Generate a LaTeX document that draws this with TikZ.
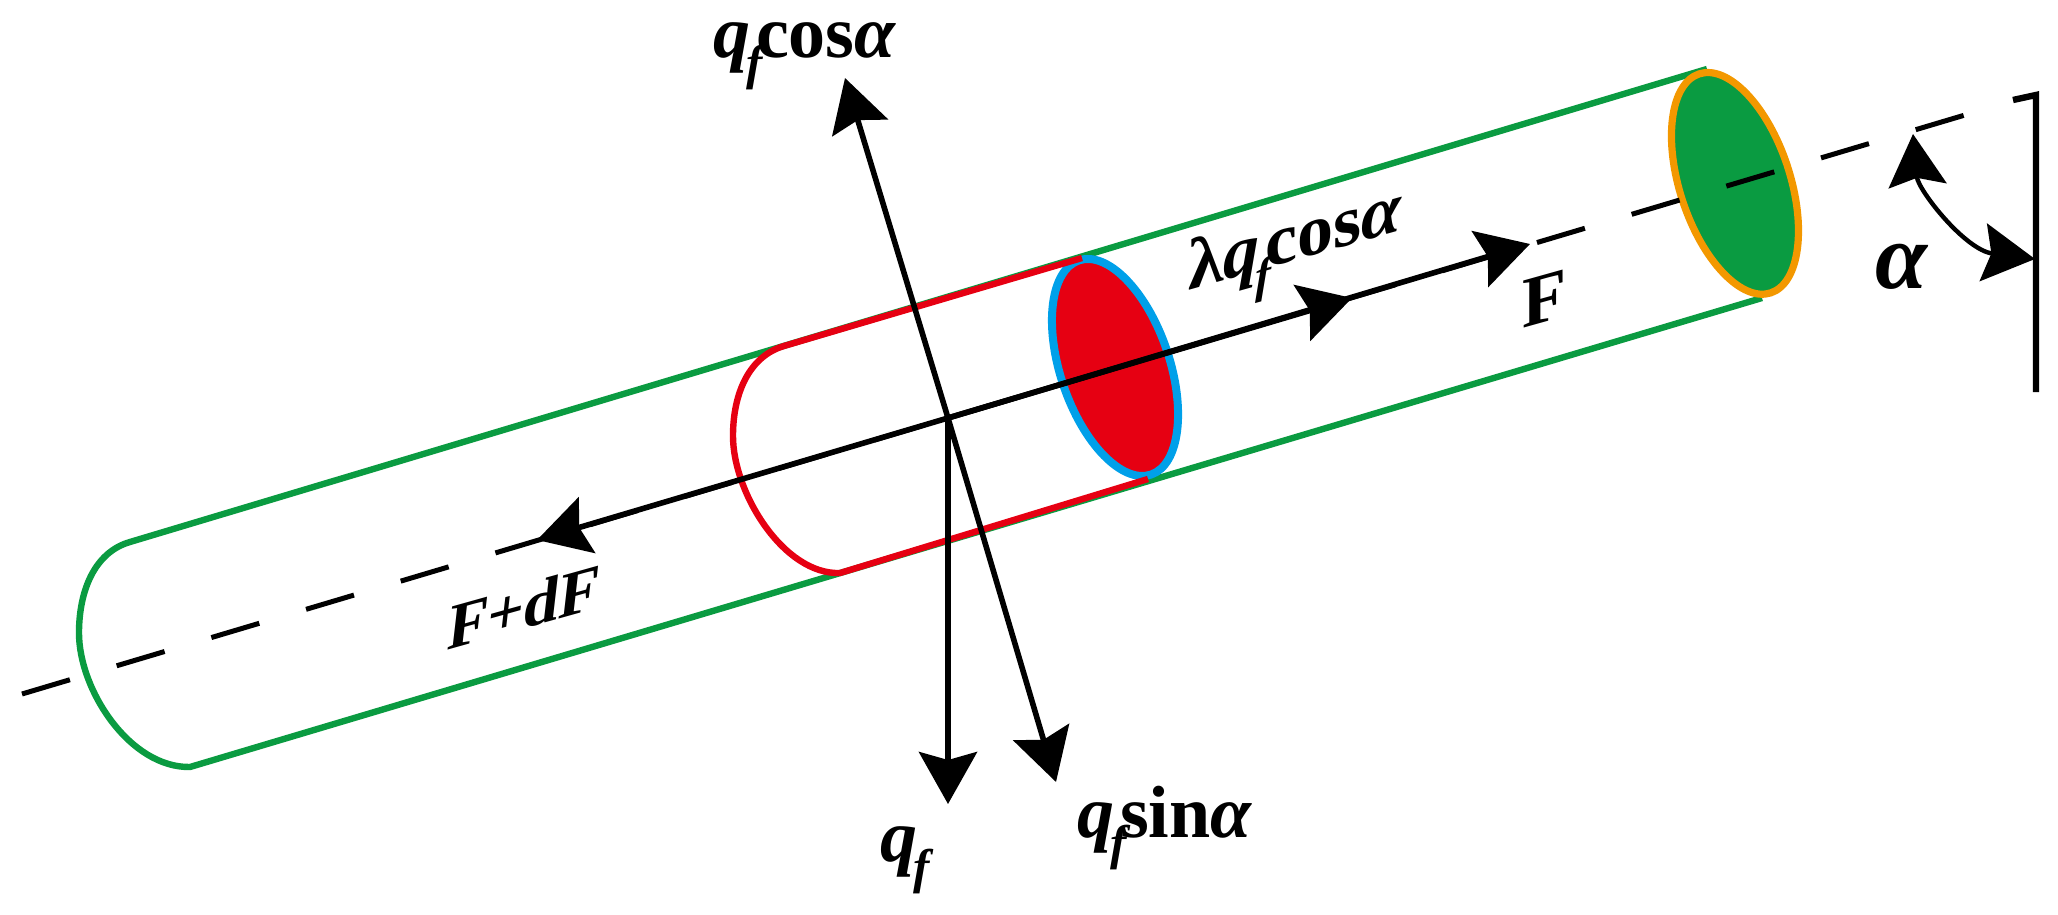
\documentclass[tikz,border=0pt]{standalone}
\usepackage{fontspec}
\usepackage{tikz}
\usetikzlibrary{arrows.meta}
\setmainfont{Liberation Serif}
\definecolor{tubegreen}{RGB}{10,155,65}
\definecolor{tubered}{RGB}{230,0,18}
\definecolor{rimblue}{RGB}{0,160,233}
\definecolor{rimorange}{RGB}{243,152,0}
\newcommand{\qf}{\textbf{\textit{q}}\kern-0.06em\raisebox{-0.3em}{\scalebox{0.66}{\textit{f}}}\kern-0.14em}
\newcommand{\bfalpha}{\textbf{\textit{α}}}
\tikzset{
    forcetip/.tip={Stealth[length=26pt,width=29pt,inset=4pt]},
    forcearrow/.style={line width=2.8pt,-forcetip},
    tubeline/.style={line width=3.2pt},
    forcelabel/.style={inner sep=0pt,font=\fontsize{37}{37}\selectfont\bfseries},
    tubelabel/.style={inner sep=0pt,yslant=0.28,transform shape,font=\fontsize{36}{36}\selectfont\bfseries}
}
\begin{document}
\begin{tikzpicture}[x=0.5pt,y=-0.5pt]
        \useasboundingbox (0,0) rectangle (2058,915);

        \coordinate (o) at (948,418);
        \coordinate (axisl) at (22,694);
        \coordinate (axisr) at (1965,115);
        \coordinate (cosend) at (845,78);
        \coordinate (sinend) at (1056,782);
        \coordinate (qend) at (948,804);
        \coordinate (dfend) at (537,540);
        \coordinate (fend) at (1530,244);
        \coordinate (midend) at (1352,298);
        \coordinate (greencen) at (1735,183.5);
        \coordinate (redcen) at (1115,367.5);

        \draw[tubeline,tubegreen] (1707,69) -- (130,542) .. controls (95,552) and (79,590) .. (79,633) .. controls (79,690) and (130,768) .. (190,767) -- (1762,298);

        \draw[line width=4pt,rimblue,fill=tubered,rotate around={-71.4:(redcen)}] (redcen) ellipse (56.5pt and 27.3pt);
        \draw[line width=3.6pt,rimorange,fill=tubegreen,rotate around={-71.9:(greencen)}] (greencen) ellipse (57.6pt and 27.6pt);

        \draw[tubeline,tubered] (1082,258) -- (784,346) .. controls (750,356) and (733,392) .. (733,436) .. controls (733,493) and (784,575) .. (840,573) -- (1148,479);

        \draw[line width=2.5pt,dash pattern=on 25pt off 24.4pt] (axisl) -- (axisr);
        \draw[forcearrow] (o) -- (cosend);
        \draw[forcearrow] (o) -- (sinend);
        \draw[forcearrow] (o) -- (qend);
        \draw[forcearrow] (o) -- (dfend);
        \draw[forcearrow] (o) -- (fend);
        \draw[forcearrow] (o) -- (midend);

        \coordinate (hook) at (2013,100);
        \coordinate (walltop) at (2036,95);
        \coordinate (wallend) at (2036,392);
        \draw[line width=3.2pt] (hook) -- (walltop) -- (wallend);

        \coordinate (anglea) at (1913,134);
        \coordinate (angleb) at (2035,259);
        \draw[line width=2.2pt,forcetip-forcetip] (anglea) .. controls (1918,190) and (1965,250) .. (angleb);

        \node[forcelabel] (coslabel) at (805,56) {\qf cos\bfalpha};
        \node[forcelabel] (sinlabel) at (1165,828) {\qf sin\bfalpha};
        \node[forcelabel] (qlabel) at (902,860) {\qf};
        \node[tubelabel] (lambdalabel) at (1295,251) {λ\qf cos\bfalpha};
        \node[tubelabel] (flabel) at (1544,299) {F};
        \node[tubelabel,xslant=0.12,font=\fontsize{32}{32}\selectfont\bfseries] (dflabel) at (524,607) {F+dF};
        \node[inner sep=0pt,font=\fontsize{47}{47}\selectfont] (alphalabel) at (1902,267) {\bfalpha};

\end{tikzpicture}
\end{document}
